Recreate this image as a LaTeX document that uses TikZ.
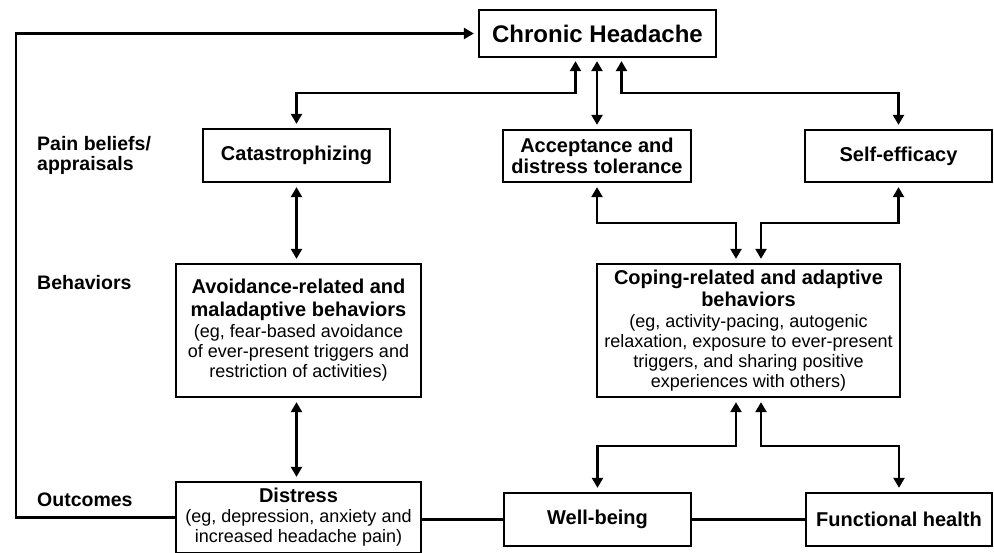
\documentclass[tikz,border=0pt]{standalone}
\usepackage{fontspec}
\setmainfont{Liberation Sans}
\usetikzlibrary{arrows.meta}
\newcommand\bl[1]{{\fontsize{20}{22}\selectfont\bfseries #1}}
\newcommand\nl[1]{{\fontsize{18}{20}\selectfont #1}}
\begin{document}
\begin{tikzpicture}[x=1pt,y=-1pt,
  box/.style={draw, line width=2.3pt, align=center, inner sep=2pt,
              font=\fontsize{20}{21}\selectfont\bfseries},
  bigbox/.style={box, font=\fontsize{18}{20}\selectfont},
  lbl/.style={anchor=west, align=left, inner sep=0pt,
              font=\fontsize{19.5}{20}\selectfont\bfseries},
  conn/.style={line width=2.3pt},
  tip/.tip={Triangle[length=10pt,width=11pt]},
  arr/.style={conn, -tip, shorten >=4pt},
  darr/.style={conn, tip-tip, shorten >=4pt, shorten <=4pt},
]
\useasboundingbox (0,0) rectangle (994,553);

% row labels
\node[lbl] (l1) at (37,155) {Pain beliefs/\\appraisals};
\node[lbl] (l2) at (37,283) {Behaviors};
\node[lbl] (l3) at (37,500) {Outcomes};

% boxes
\node[box, minimum width=237pt, minimum height=47pt,
      font=\fontsize{24}{28}\selectfont\bfseries] (ch) at (597.5,33.5) {Chronic Headache};
\node[box, minimum width=187pt, minimum height=53pt] (cat) at (296.5,155.5) {Catastrophizing};
\node[box, minimum width=188pt, minimum height=52pt] (acc) at (597,156) {Acceptance and\\distress tolerance};
\node[box, minimum width=187pt, minimum height=52pt] (se) at (898.5,156) {Self-efficacy};

\node[bigbox, minimum width=245pt, minimum height=133pt] (av) at (298.5,330.5)
  {\bl{Avoidance-related and}\\[3pt]\bl{maladaptive behaviors}\\[1pt]
   \nl{(eg, fear-based avoidance}\\\nl{of ever-present triggers and}\\\nl{restriction of activities)}};
\node[bigbox, minimum width=303pt, minimum height=133pt] (cop) at (748.5,330.5)
  {\bl{Coping-related and adaptive}\\[2pt]\bl{behaviors}\\[1pt]
   \nl{(eg, activity-pacing, autogenic}\\\nl{relaxation, exposure to ever-present}\\\nl{triggers, and sharing positive}\\\nl{experiences with others)}};

\node[bigbox, minimum width=245pt, minimum height=71pt] (dist) at (298.5,517.5)
  {\bl{Distress}\\\nl{(eg, depression, anxiety and}\\\nl{increased headache pain)}};
\node[box, minimum width=187pt, minimum height=53pt] (wb) at (597.5,519.5) {Well-being};
\node[box, minimum width=186pt, minimum height=53pt] (fh) at (899,519.5) {Functional health};

% helper coordinates
\coordinate (h1) at (0,93);
\coordinate (h2) at (0,223);
\coordinate (h3) at (0,446);
\coordinate (fbx) at (16,0);
\coordinate (c1) at ([xshift=-12.5pt]cop.north);
\coordinate (c2) at ([xshift=12.5pt]cop.north);
\coordinate (c3) at ([xshift=-12.5pt]cop.south);
\coordinate (c4) at ([xshift=12.5pt]cop.south);
\coordinate (ch1) at ([xshift=-22pt]ch.south);
\coordinate (ch3) at ([xshift=24pt]ch.south);

% feedback loop
\draw[arr] (dist.west) -- (fbx |- dist.west) |- (ch.west);

% from Chronic Headache
\draw[darr, shorten <=3pt] (ch1) |- (h1 -| cat.north) -- (cat.north);
\draw[darr, shorten <=3pt] (acc.north |- ch.south) -- (acc.north);
\draw[darr, shorten <=3pt] (ch3) |- (h1 -| se.north) -- (se.north);

% appraisals to behaviors
\draw[darr] (cat.south) -- (cat.south |- av.north);
\draw[darr] (acc.south) |- (h2 -| c1) -- (c1);
\draw[darr] (se.south) |- (h2 -| c2) -- (c2);

% behaviors to outcomes
\draw[darr] (av.south -| cat.south) -- (dist.north -| cat.south);
\draw[darr] (c3) |- (h3 -| wb.north) -- (wb.north);
\draw[darr] (c4) |- (h3 -| fh.north) -- (fh.north);

% outcome links
\draw[conn] (dist.east |- wb.west) -- (wb.west);
\draw[conn] (wb.east) -- (fh.west);
\end{tikzpicture}
\end{document}
